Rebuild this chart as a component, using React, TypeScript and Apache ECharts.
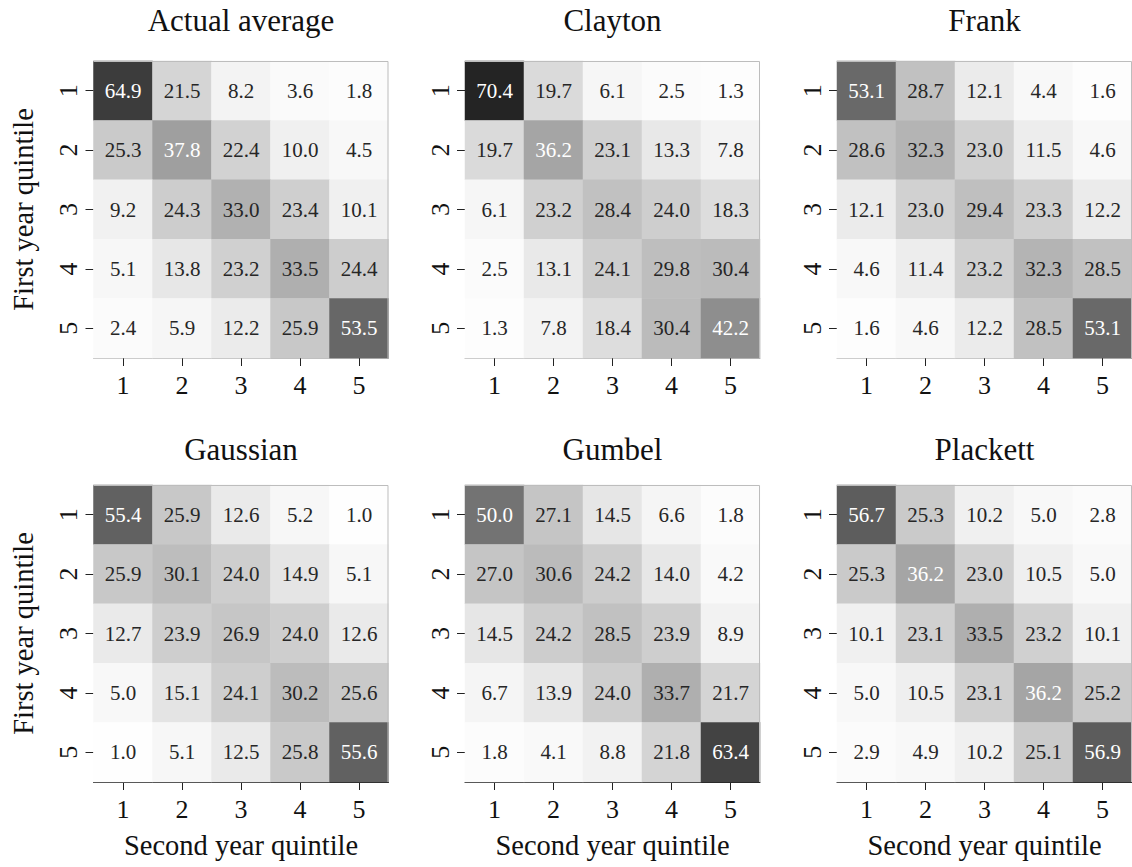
import React, { useEffect, useRef } from "react";
import * as echarts from "echarts";

const quintiles = ["1", "2", "3", "4", "5"];
const panelTitles = ["Actual average", "Clayton", "Frank", "Gaussian", "Gumbel", "Plackett"];

const actualAverage = [
  [64.9, 21.5, 8.2, 3.6, 1.8],
  [25.3, 37.8, 22.4, 10.0, 4.5],
  [9.2, 24.3, 33.0, 23.4, 10.1],
  [5.1, 13.8, 23.2, 33.5, 24.4],
  [2.4, 5.9, 12.2, 25.9, 53.5],
];
const clayton = [
  [70.4, 19.7, 6.1, 2.5, 1.3],
  [19.7, 36.2, 23.1, 13.3, 7.8],
  [6.1, 23.2, 28.4, 24.0, 18.3],
  [2.5, 13.1, 24.1, 29.8, 30.4],
  [1.3, 7.8, 18.4, 30.4, 42.2],
];
const frank = [
  [53.1, 28.7, 12.1, 4.4, 1.6],
  [28.6, 32.3, 23.0, 11.5, 4.6],
  [12.1, 23.0, 29.4, 23.3, 12.2],
  [4.6, 11.4, 23.2, 32.3, 28.5],
  [1.6, 4.6, 12.2, 28.5, 53.1],
];
const gaussian = [
  [55.4, 25.9, 12.6, 5.2, 1.0],
  [25.9, 30.1, 24.0, 14.9, 5.1],
  [12.7, 23.9, 26.9, 24.0, 12.6],
  [5.0, 15.1, 24.1, 30.2, 25.6],
  [1.0, 5.1, 12.5, 25.8, 55.6],
];
const gumbel = [
  [50.0, 27.1, 14.5, 6.6, 1.8],
  [27.0, 30.6, 24.2, 14.0, 4.2],
  [14.5, 24.2, 28.5, 23.9, 8.9],
  [6.7, 13.9, 24.0, 33.7, 21.7],
  [1.8, 4.1, 8.8, 21.8, 63.4],
];
const plackett = [
  [56.7, 25.3, 10.2, 5.0, 2.8],
  [25.3, 36.2, 23.0, 10.5, 5.0],
  [10.1, 23.1, 33.5, 23.2, 10.1],
  [5.0, 10.5, 23.1, 36.2, 25.2],
  [2.9, 4.9, 10.2, 25.1, 56.9],
];
const matrices = [actualAverage, clayton, frank, gaussian, gumbel, plackett];

const greys = ["#ffffff", "#f0f0f0", "#d9d9d9", "#bdbdbd", "#969696", "#737373", "#525252", "#252525", "#000000"];
const vMin = 0;
const vMax = 80;

const FONT = "Liberation Serif";

function greyAt(v: number): number {
  const t = Math.max(0, Math.min(1, (v - vMin) / (vMax - vMin)));
  const pos = t * (greys.length - 1);
  const i = Math.min(greys.length - 2, Math.floor(pos));
  const f = pos - i;
  const a = parseInt(greys[i].slice(1, 3), 16);
  const b = parseInt(greys[i + 1].slice(1, 3), 16);
  return a + (b - a) * f;
}
function textColorFor(v: number): string {
  const c = greyAt(v) / 255;
  const lin = c <= 0.03928 ? c / 12.92 : Math.pow((c + 0.055) / 1.055, 2.4);
  return lin > 0.408 ? "#262626" : "#ffffff";
}

const lefts = [93.5, 465, 837];
const tops = [61, 485];
const W = 295;
const H = 297;

export default function App() {
  const ref = useRef<HTMLDivElement>(null);
  useEffect(() => {
    if (!ref.current) return;
    const chart = echarts.init(ref.current, null, { renderer: "svg" });
    const grid: any[] = [];
    const xAxis: any[] = [];
    const yAxis: any[] = [];
    const series: any[] = [];
    const graphic: any[] = [];
    matrices.forEach((m, k) => {
      const row = Math.floor(k / 3);
      const col = k % 3;
      const left = lefts[col];
      const top = tops[row];
      grid.push({ left, top, width: W, height: H, containLabel: false });
      xAxis.push({
        type: "category",
        gridIndex: k,
        data: quintiles,
        position: "bottom",
        axisLine: { show: true, lineStyle: { color: row === 1 ? "#222" : "#bdbdbd", width: 1 } },
        axisTick: { show: true, alignWithLabel: true, length: 8, lineStyle: { color: "#222" } },
        axisLabel: { fontFamily: FONT, fontSize: 26, color: "#111", margin: 14 },
        splitLine: { show: false },
        name: row === 1 ? "Second year quintile" : "",
        nameLocation: "middle",
        nameGap: 49,
        nameTextStyle: { fontFamily: FONT, fontSize: 28.5, color: "#111" },
      });
      yAxis.push({
        type: "category",
        gridIndex: k,
        data: quintiles,
        inverse: true,
        axisLine: { show: false },
        axisTick: { show: true, alignWithLabel: true, length: 8, lineStyle: { color: "#222" } },
        axisLabel: { fontFamily: FONT, fontSize: 26, color: "#111", margin: 12, rotate: 90 },
        splitLine: { show: false },
        name: col === 0 ? "First year quintile" : "",
        nameLocation: "middle",
        nameRotate: 90,
        nameGap: 56,
        nameTextStyle: { fontFamily: FONT, fontSize: 28.5, color: "#111" },
      });
      const data: any[] = [];
      m.forEach((r, i) =>
        r.forEach((v, j) => {
          data.push({ value: [j, i, v], label: { color: textColorFor(v) } });
        })
      );
      series.push({
        type: "heatmap",
        xAxisIndex: k,
        yAxisIndex: k,
        data,
        label: {
          show: true,
          fontFamily: FONT,
          fontSize: 21,
          formatter: (p: any) => Number(p.value[2]).toFixed(1),
        },
        emphasis: { disabled: true },
        itemStyle: { borderWidth: 0 },
      });
      graphic.push({
        type: "polyline",
        silent: true,
        shape: { points: [[left, top + 0.5], [left + W - 0.5, top + 0.5], [left + W - 0.5, top + H]] },
        style: { stroke: "#bdbdbd", lineWidth: 1, fill: null },
        z: 10,
      });
      graphic.push({
        type: "text",
        silent: true,
        x: left + W / 2,
        y: row === 0 ? 20 : 449,
        style: {
          text: panelTitles[k],
          fontFamily: FONT,
          fontSize: 31,
          fill: "#111",
          textAlign: "center",
          textVerticalAlign: "middle",
          align: "center",
          verticalAlign: "middle",
        },
      });
    });
    chart.setOption({
      animation: false,
      backgroundColor: "#ffffff",
      textStyle: { fontFamily: FONT },
      grid,
      xAxis,
      yAxis,
      visualMap: {
        show: false,
        type: "continuous",
        min: vMin,
        max: vMax,
        dimension: 2,
        inRange: { color: greys },
      },
      series,
      graphic,
    });
    return () => chart.dispose();
  }, []);
  return (
    <div
      ref={ref}
      style={{ position: "fixed", left: 0, top: 0, width: 1132, height: 867, background: "#fff" }}
    />
  );
}
